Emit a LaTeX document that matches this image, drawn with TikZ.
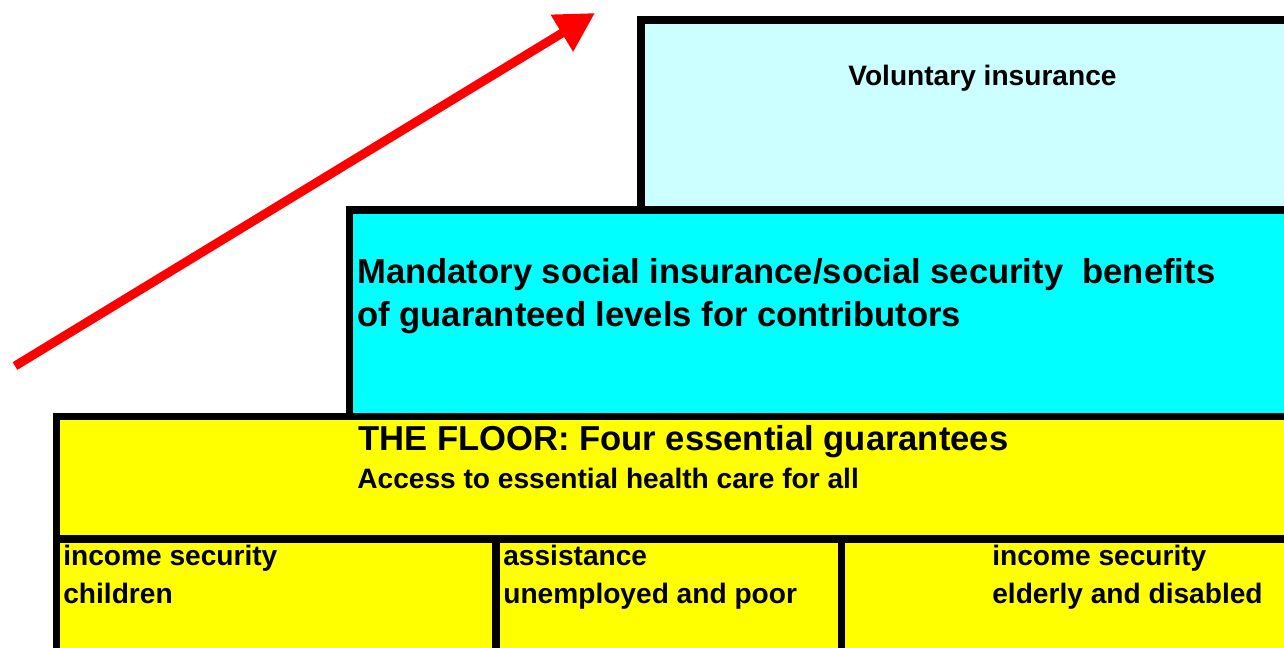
\documentclass[tikz,border=0pt]{standalone}
\usepackage{fontspec}
\setmainfont{Liberation Sans}
\usepackage{tikz}
\usetikzlibrary{arrows.meta}
\definecolor{palecyan}{HTML}{CCFFFF}
\definecolor{fullcyan}{HTML}{00FFFF}
\definecolor{flooryellow}{HTML}{FFFF00}
\tikzstyle{tier}=[rectangle, draw, line width=4pt, outer sep=0pt, inner sep=0pt, anchor=north west]
\tikzstyle{headtext}=[font=\fontsize{19.7}{24.4}\selectfont\bfseries, anchor=base west, inner sep=0pt, align=left]
\tikzstyle{bodytext}=[font=\fontsize{16}{21.5}\selectfont\bfseries, anchor=base west, inner sep=0pt, align=left]

\begin{document}
\begin{tikzpicture}[x=0.02cm, y=-0.02cm]
                    \useasboundingbox (0,0) rectangle (1284,647);
                    \clip (0,0) rectangle (1284,647);
                    % the three tiers
                    \node[tier, fill=palecyan, minimum width=13.6cm, minimum height=3.8cm] (voluntary) at (641,20) {};
                    \node[tier, fill=fullcyan, minimum width=19.5cm, minimum height=4.13cm] (mandatory) at (349.5,210) {};
                    \node[tier, fill=flooryellow, minimum width=25.3cm, minimum height=2.45cm] (floor) at (56.5,416.5) {};
                    \node[tier, fill=flooryellow, minimum width=8.79cm, minimum height=3cm] (children) at (56.5,539) {};
                    \node[tier, fill=flooryellow, minimum width=6.91cm, minimum height=3cm] (poor) at (496,539) {};
                    \node[tier, fill=flooryellow, minimum width=9.6cm, minimum height=3cm] (elderly) at (841.5,539) {};
                    % texts (base of a two-line node is its last line)
                    \node[bodytext] (voltext) at (848,85) {Voluntary insurance};
                    \node[headtext] (mandtext) at (357,326) {Mandatory social insurance/social security~ benefits\\of guaranteed levels for contributors};
                    \node[headtext] (floortitle) at (358,450) {THE FLOOR: Four essential guarantees};
                    \node[bodytext] (floorsub) at (357,488) {Access to essential health care for all};
                    \node[bodytext] (childtext) at (63,603) {income security\\children};
                    \node[bodytext] (poortext) at (503,603) {assistance\\unemployed and poor};
                    \node[bodytext] (eldertext) at (992,603) {income security\\elderly and disabled};
                    % rising arrow
                    \coordinate (rise0) at (15,366);
                    \coordinate (rise1) at (595,13);
                    \draw[red, line width=5.1pt, -{Triangle[length=22.1pt, width=23.2pt]}] (rise0)--(rise1);
                \end{tikzpicture}
\end{document}
